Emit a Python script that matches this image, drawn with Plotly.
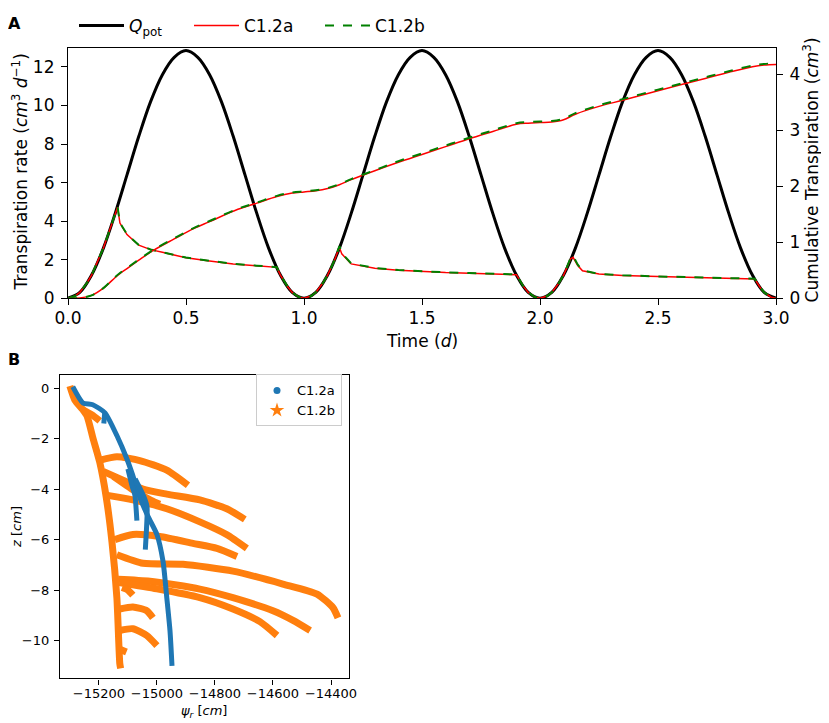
import plotly.graph_objects as go

# ---- panel A: transpiration rate and cumulative transpiration ----
t_pot = [0.0, 0.05, 0.1, 0.15, 0.2, 0.25, 0.3, 0.35, 0.4, 0.45, 0.5, 0.55, 0.6, 0.65, 0.7, 0.75, 0.8, 0.85, 0.9, 0.95,
         1.0, 1.05, 1.1, 1.15, 1.2, 1.25, 1.3, 1.35, 1.4, 1.45, 1.5, 1.55, 1.6, 1.65, 1.7, 1.75, 1.8, 1.85, 1.9, 1.95,
         2.0, 2.05, 2.1, 2.15, 2.2, 2.25, 2.3, 2.35, 2.4, 2.45, 2.5, 2.55, 2.6, 2.65, 2.7, 2.75, 2.8, 2.85, 2.9, 2.95, 3.0]
q_pot = [0, 0.3, 1.2, 2.6, 4.4, 6.4, 8.4, 10.2, 11.6, 12.5, 12.85, 12.5, 11.6, 10.2, 8.4, 6.4, 4.4, 2.6, 1.2, 0.3,
         0, 0.3, 1.2, 2.6, 4.4, 6.4, 8.4, 10.2, 11.6, 12.5, 12.85, 12.5, 11.6, 10.2, 8.4, 6.4, 4.4, 2.6, 1.2, 0.3,
         0, 0.3, 1.2, 2.6, 4.4, 6.4, 8.4, 10.2, 11.6, 12.5, 12.85, 12.5, 11.6, 10.2, 8.4, 6.4, 4.4, 2.6, 1.2, 0.3, 0]

t_act = [0.0, 0.03, 0.05, 0.08, 0.1, 0.13, 0.15, 0.18, 0.2, 0.21, 0.22, 0.25, 0.3, 0.35, 0.4, 0.5, 0.6, 0.7, 0.8,
         0.885, 0.9, 0.93, 0.95, 0.98, 1.0, 1.03, 1.05, 1.08, 1.1, 1.13, 1.15, 1.16, 1.2, 1.3, 1.4, 1.5, 1.6, 1.7,
         1.8, 1.9, 1.93, 1.95, 1.98, 2.0, 2.03, 2.05, 2.08, 2.1, 2.13, 2.14, 2.16, 2.18, 2.25, 2.35, 2.5, 2.7,
         2.91, 2.93, 2.95, 2.98, 3.0]
q_act_a = [0, 0.11, 0.3, 0.79, 1.2, 1.99, 2.6, 3.66, 4.4, 4.72, 3.9, 3.3, 2.75, 2.52, 2.38, 2.1, 1.93, 1.78, 1.68,
           1.6, 1.2, 0.61, 0.3, 0.05, 0, 0.11, 0.3, 0.79, 1.2, 1.99, 2.65, 2.3, 1.78, 1.56, 1.45, 1.38, 1.33, 1.3,
           1.27, 1.22, 0.61, 0.3, 0.05, 0, 0.11, 0.3, 0.79, 1.2, 2.05, 2.12, 1.7, 1.42, 1.25, 1.18, 1.12, 1.07,
           1.0, 0.61, 0.3, 0.05, 0]
q_act_b = [0, 0.11, 0.3, 0.79, 1.2, 1.99, 2.6, 3.66, 4.4, 4.74, 3.92, 3.31, 2.76, 2.53, 2.39, 2.11, 1.94, 1.79, 1.69,
           1.61, 1.2, 0.61, 0.3, 0.05, 0, 0.11, 0.3, 0.79, 1.2, 1.99, 2.7, 2.35, 1.8, 1.57, 1.46, 1.39, 1.34, 1.31,
           1.28, 1.23, 0.61, 0.3, 0.05, 0, 0.11, 0.3, 0.79, 1.2, 2.1, 2.2, 1.74, 1.44, 1.26, 1.19, 1.13, 1.08,
           1.01, 0.61, 0.3, 0.05, 0]

t_cum = [0.0, 0.05, 0.1, 0.15, 0.2, 0.22, 0.25, 0.3, 0.36, 0.45, 0.53, 0.6, 0.72, 0.8, 0.885, 0.95, 1.0, 1.05, 1.1,
         1.15, 1.2, 1.3, 1.4, 1.5, 1.6, 1.7, 1.8, 1.9, 1.95, 2.0, 2.05, 2.1, 2.15, 2.25, 2.35, 2.5, 2.6, 2.7, 2.8,
         2.9, 2.95, 3.0]
cum_a = [0, 0.005, 0.05, 0.18, 0.37, 0.44, 0.53, 0.68, 0.85, 1.06, 1.24, 1.37, 1.59, 1.7, 1.82, 1.88, 1.9, 1.92, 1.96,
         2.03, 2.12, 2.28, 2.43, 2.57, 2.71, 2.85, 2.98, 3.11, 3.13, 3.14, 3.15, 3.19, 3.29, 3.43, 3.54, 3.71, 3.82,
         3.93, 4.04, 4.14, 4.17, 4.18]
cum_b = [0, 0.005, 0.05, 0.18, 0.38, 0.45, 0.54, 0.69, 0.86, 1.07, 1.25, 1.38, 1.6, 1.71, 1.83, 1.89, 1.91, 1.93, 1.97,
         2.04, 2.13, 2.29, 2.45, 2.59, 2.73, 2.87, 3.0, 3.13, 3.15, 3.16, 3.17, 3.21, 3.31, 3.45, 3.56, 3.73, 3.84,
         3.95, 4.06, 4.16, 4.19, 4.2]

time_ticks = [0, 0.5, 1, 1.5, 2, 2.5, 3]

# ---- panel B: root water potential vs depth (None separates branches) ----
psi_a = [-15290, -15255, -15221, -15179, -15138, -15103, -15085, -15060, -15030, -15000, -14979, -14966, -14955, -14948, None,
         -15100, -15085, -15076, -15069, None,
         -15075, -15045, -15034, -15036, -15040, None,
         -15180, -15183]
z_a = [0.05, -0.59, -0.66, -0.98, -1.88, -2.82, -3.4, -4.3, -5.1, -5.8, -6.86, -8.3, -9.6, -11.0, None,
       -3.2, -3.9, -4.24, -5.25, None,
       -3.6, -4.3, -4.7, -5.6, -6.4, None,
       -1.0, -1.4]

psi_b = [-15300, -15283, -15255, -15241, -15220, -15197, -15175, -15155, -15138, -15128, -15125, None,
         -15255, -15225, -15197, None,
         -15195, -15138, -15059, -14966, -14893, None,
         -15185, -15117, -15048, -14966, -14852, -14759, -14697, None,
         -15150, -15080, -15020, -14990, None,
         -15170, -15083, -14966, -14852, -14760, -14690, None,
         -15145, -15083, -14990, -14876, -14793, -14724, None,
         -15138, -15048, -14910, -14738, -14566, -14448, -14393, -14376, None,
         -15134, -15024, -14852, -14738, -14600, -14531, -14472, None,
         -15130, -15000, -14852, -14738, -14645, -14586, None,
         -15120, -15100, -15083, None,
         -15128, -15083, -15035, -15014, None,
         -15128, -15083, -15035, -15000, None,
         -15126, -15105]
z_b = [0.08, -0.47, -0.86, -1.1, -2.0, -2.94, -4.3, -6.08, -8.3, -10.9, -11.1, None,
       -0.86, -1.05, -1.3, None,
       -2.85, -2.72, -2.87, -3.25, -3.85, None,
       -3.3, -3.65, -4.0, -4.2, -4.43, -4.78, -5.2, None,
       -3.5, -4.05, -4.45, -4.6, None,
       -4.25, -4.43, -4.78, -5.3, -5.8, -6.35, None,
       -6.0, -5.8, -5.88, -6.15, -6.35, -6.67, None,
       -6.6, -6.94, -6.98, -7.25, -7.76, -8.16, -8.7, -9.1, None,
       -7.57, -7.65, -7.96, -8.3, -8.82, -9.2, -9.6, None,
       -7.7, -7.95, -8.3, -8.75, -9.25, -9.8, None,
       -7.9, -8.0, -8.2, None,
       -8.75, -8.67, -8.82, -9.1, None,
       -9.6, -9.53, -9.8, -10.2, None,
       -10.35, -10.45]

psi_ticks = [-15200, -15000, -14800, -14600, -14400]
psi_labels = ["\u221215200", "\u221215000", "\u221214800", "\u221214600", "\u221214400"]

BLUE = "#1f77b4"
ORANGE = "#ff7f0e"
FONT = "DejaVu Sans"

# the page body adds an 8 px margin, so the figure is a bit smaller than the window
W, H, OFF = 821, 715, 8


def px(x):
    return (x - OFF) / W


def py(y):
    return 1 - (y - OFF) / H


fig = go.Figure()

fig.add_trace(go.Scatter(x=t_pot, y=q_pot, mode="lines", line=dict(color="black", width=3, shape="spline"),
                         name="<i>Q</i><sub>pot</sub>", legend="legend"))
fig.add_trace(go.Scatter(x=t_act, y=q_act_a, mode="lines", line=dict(color="red", width=1.5), name="C1.2a",
                         legend="legend3"))
fig.add_trace(go.Scatter(x=t_act, y=q_act_b, mode="lines", line=dict(color="green", width=2, dash="dash"),
                         name="C1.2b", legend="legend4"))
fig.add_trace(go.Scatter(x=t_cum, y=cum_a, mode="lines", line=dict(color="red", width=1.5, shape="spline"),
                         yaxis="y2", showlegend=False))
fig.add_trace(go.Scatter(x=t_cum, y=cum_b, mode="lines", line=dict(color="green", width=2, dash="dash", shape="spline"),
                         yaxis="y2", showlegend=False))

fig.add_trace(go.Scatter(x=psi_b, y=z_b, mode="lines", line=dict(color=ORANGE, width=7, shape="spline", smoothing=0.6),
                         xaxis="x2", yaxis="y3", showlegend=False))
fig.add_trace(go.Scatter(x=psi_a, y=z_a, mode="lines", line=dict(color=BLUE, width=5, shape="spline", smoothing=0.6),
                         xaxis="x2", yaxis="y3", showlegend=False))
fig.add_trace(go.Scatter(x=[None], y=[None], mode="markers", marker=dict(color=BLUE, size=7, symbol="circle"),
                         xaxis="x2", yaxis="y3", name="C1.2a", legend="legend2"))
fig.add_trace(go.Scatter(x=[None], y=[None], mode="markers", marker=dict(color=ORANGE, size=11, symbol="star"),
                         xaxis="x2", yaxis="y3", name="C1.2b", legend="legend2"))

axis_common = dict(showline=True, linecolor="black", linewidth=1.2, ticks="outside",
                   tickcolor="black", showgrid=False, zeroline=False, automargin=False)

top_legend = dict(orientation="h", y=py(19), xanchor="left", yanchor="middle", itemwidth=45,
                  font=dict(size=17), bgcolor="rgba(0,0,0,0)")


def label(text, x, y, size, angle=0, bold=False):
    return dict(text=f"<b>{text}</b>" if bold else text, x=px(x), y=py(y), xref="paper", yref="paper",
                showarrow=False, xanchor="center", yanchor="middle", textangle=angle, font=dict(size=size))


fig.update_layout(
    template="none",
    width=W, height=H,
    margin=dict(l=0, r=0, t=0, b=0, pad=0),
    paper_bgcolor="white", plot_bgcolor="white",
    font=dict(family=FONT, size=17, color="black"),
    xaxis=dict(domain=[px(68), px(776)], range=[0, 3], tickvals=time_ticks, tickformat=".1f",
               mirror=True, anchor="y", ticklen=6, ticklabelstandoff=-2, **axis_common),
    yaxis=dict(domain=[py(294), py(41)], range=[0, 13], dtick=2, mirror=True, anchor="x",
               ticklen=6, ticklabelstandoff=3, **axis_common),
    yaxis2=dict(overlaying="y", side="right", range=[0, 4.48], dtick=1, anchor="x",
                ticklen=6, ticklabelstandoff=3, **axis_common),
    xaxis2=dict(domain=[px(60), px(349)], range=[-15334, -14338],
                tickvals=psi_ticks, ticktext=psi_labels, mirror=True, anchor="y3",
                ticklen=5, ticklabelstandoff=-2, tickfont=dict(size=13), **axis_common),
    yaxis3=dict(domain=[py(678), py(372)], range=[-11.5, 0.5], dtick=2, mirror=True, anchor="x2",
                ticklen=5, ticklabelstandoff=2, tickfont=dict(size=13), **axis_common),
    legend=dict(x=px(74), **top_legend),
    legend3=dict(x=px(189), **top_legend),
    legend4=dict(x=px(320), **top_legend),
    legend2=dict(x=px(342), y=py(371), xanchor="right", yanchor="top", font=dict(size=13),
                 bordercolor="#cccccc", borderwidth=1, bgcolor="white"),
    annotations=[
        label("A", 14, 17, 16, bold=True),
        label("B", 14, 356, 16, bold=True),
        label("Transpiration rate (<i>cm</i><sup>3</sup> <i>d</i><sup>\u22121</sup>)", 20, 167, 17, angle=-90),
        label("Cumulative Transpiration (<i>cm</i><sup>3</sup>)", 811, 165, 17, angle=-90),
        label("Time (<i>d</i>)", 422, 337, 17),
        label("<i>\u03c8<sub>r</sub></i> [<i>cm</i>]", 204, 711, 13),
        label("<i>z</i> [<i>cm</i>]", 17, 525, 13, angle=-90),
    ],
)

fig.write_html("out.html")
